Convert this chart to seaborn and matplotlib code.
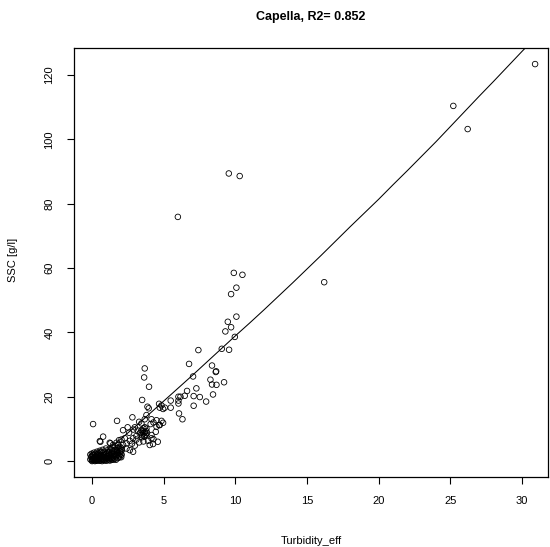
import numpy as np
import pandas as pd
import matplotlib
matplotlib.use("Agg")
import matplotlib.pyplot as plt
import seaborn as sns

# ---- data ----
turb_high = [30.9, 25.2, 26.2, 16.2, 6.0, 9.55, 10.31]
ssc_high = [123.4, 110.4, 103.2, 55.6, 75.9, 89.4, 88.6]

turb_mid_high = [9.9, 10.5, 10.08, 9.71, 10.08, 9.48, 9.71, 9.31, 9.97, 9.06, 9.57, 7.43,
                 6.78, 8.38, 8.64, 8.67, 7.06, 8.27, 8.38, 8.69, 9.22, 7.29, 6.64, 8.45,
                 6.48, 7.1, 7.53, 6.18, 6.04]
ssc_mid_high = [58.5, 57.9, 53.9, 51.9, 44.9, 43.3, 41.6, 40.3, 38.6, 34.9, 34.6, 34.5,
                30.2, 29.7, 27.7, 27.9, 26.3, 25.3, 23.8, 23.7, 24.5, 22.6, 21.8, 20.7,
                20.3, 20.2, 19.9, 20.0, 20.0]

turb_mid = [3.69, 3.65, 3.99, 3.51, 5.5, 6.04, 6.04, 7.97, 7.1, 3.88, 3.97, 4.69, 4.86,
            4.74, 4.97, 5.09, 5.5, 6.08, 6.32, 2.83, 1.76, 3.81, 3.69, 4.16, 4.51, 4.86,
            4.97, 4.69, 3.46, 2.18, 0.09, 0.56]
ssc_mid = [28.8, 26.0, 23.1, 19.0, 18.8, 18.8, 17.9, 18.5, 17.2, 16.9, 16.4, 17.8, 17.3,
           16.6, 16.2, 16.6, 16.6, 14.8, 13.0, 13.6, 12.5, 14.3, 13.0, 13.0, 12.7, 12.5,
           11.9, 11.2, 11.7, 9.6, 11.5, 6.2]

turb_low = [3.46, 3.81, 4.16, 3.69, 3.92, 4.27, 4.04, 4.51, 4.74, 4.46, 3.34, 3.11, 2.88,
            2.65, 2.42, 2.18, 2.3, 2.07, 1.9, 1.72, 1.48, 1.3, 2.65, 2.88, 0.98, 2.07, 2.42,
            0.79, 0.6, 1.25, 3.5, 3.6, 3.7, 3.55, 3.75, 3.65, 3.8, 3.4, 3.6, 3.85, 3.7, 3.5,
            3.0, 3.2, 2.6, 2.9, 2.5, 3.3, 4.3, 4.6, 4.1, 4.3, 2.8, 3.0, 3.3, 3.6, 4.16, 3.11]
ssc_low = [9.6, 10.1, 8.1, 7.6, 6.3, 5.3, 5.0, 10.7, 11.2, 9.1, 8.6, 7.8, 7.1,
           6.3, 5.5, 5.0, 7.1, 6.7, 6.5, 5.7, 5.0, 5.5, 3.4, 2.9, 3.9, 3.9, 3.9,
           7.6, 6.0, 5.7, 8.0, 8.6, 9.0, 9.4, 8.2, 7.8, 9.3, 8.9, 10.2, 8.7, 10.5, 7.4,
           10.5, 9.5, 8.8, 9.8, 10.5, 12.2, 6.8, 6.0, 11.5, 12.0, 5.4, 4.8, 5.8, 6.1, 7.1, 6.7]

turb_blob = [0.0, 0.05, 0.1, 0.0, 0.1, 0.15, 0.2, 0.25, 0.3, 0.3, 0.35, 0.4, 0.45, 0.5, 0.55,
             0.6, 0.6, 0.65, 0.7, 0.75, 0.8, 0.8, 0.85, 0.9, 0.95, 1.0, 1.0, 1.05, 1.1, 1.15,
             1.2, 1.2, 1.25, 1.3, 1.35, 1.4, 1.4, 1.45, 1.5, 1.55, 1.6, 1.6, 1.65, 1.7, 1.75,
             1.8, 1.8, 1.85, 1.9, 1.95, 2.0, 2.0, 2.05, 2.1, 0.02, 0.08, 0.12, 0.18, 0.22,
             0.28, 0.32, 0.38, 0.42, 0.48, 0.52, 0.58, 0.62, 0.68, 0.72, 0.78, 0.82, 0.88,
             0.92, 0.98, 1.02, 1.08, 1.12, 1.18, 1.22, 1.28, 1.32, 1.38, 1.42, 1.48, 1.52,
             1.58, 1.62, 1.68, 1.72, 1.78, 1.82, 1.88, 1.92, 1.98, 2.02, 2.08, 0.0, 0.05,
             0.15, 0.25, 0.35, 0.45, 0.55, 0.65, 0.75, -0.1, -0.05, -0.1]
ssc_blob = [0.2, 0.5, 1.0, 1.5, 2.0, 0.3, 0.8, 1.4, 0.1, 0.6, 1.1, 2.1, 0.4, 0.9, 1.5,
            0.2, 2.6, 0.7, 1.2, 0.3, 1.8, 0.8, 2.9, 0.4, 1.3, 0.6, 2.2, 3.3, 0.9, 1.6,
            0.3, 2.6, 3.7, 0.8, 1.9, 0.5, 3.0, 4.2, 1.2, 2.3, 0.7, 3.5, 4.6, 1.5, 2.8,
            0.9, 3.9, 5.0, 1.8, 3.1, 2.3, 4.3, 1.2, 3.4, 0.0, 0.3, 0.6, 1.2, 0.0,
            0.4, 1.7, 0.2, 0.7, 1.8, 0.1, 1.1, 0.5, 1.9, 0.0, 0.5, 1.4, 0.2,
            2.0, 0.9, 0.1, 1.6, 2.7, 0.6, 1.9, 0.2, 1.3, 2.4, 0.9, 0.4, 3.1,
            1.6, 2.1, 0.4, 3.3, 1.9, 2.5, 1.1, 4.0, 1.4, 3.0, 2.0, 2.3, 1.8,
            2.6, 2.2, 2.9, 2.5, 3.2, 2.8, 3.5, 0.5, 1.2, 2.0]

# fitted curve
curve_x = [0, 1, 2, 3, 4, 5, 6, 7, 8, 9, 10, 11, 12, 13, 14, 15, 16, 17, 18, 19, 20,
           21, 22, 23, 24, 25, 26, 27, 28, 29, 30, 31]
curve_y = [0.0, 3.3, 6.8, 10.6, 14.6, 18.6, 22.6, 26.6, 30.7, 34.8, 38.9, 42.9, 47.0,
           51.2, 55.4, 59.7, 64.0, 68.4, 72.8, 77.1, 81.4, 85.9, 90.3, 94.8, 99.3, 104.0,
           108.7, 113.4, 118.0, 122.7, 127.4, 132.0]

x_ticks = [0, 5, 10, 15, 20, 25, 30]
y_ticks = [0, 20, 40, 60, 80, 100, 120]

turb = turb_high + turb_mid_high + turb_mid + turb_low + turb_blob
ssc = ssc_high + ssc_mid_high + ssc_mid + ssc_low + ssc_blob
df = pd.DataFrame({"Turbidity_eff": turb, "SSC": ssc})
cdf = pd.DataFrame({"x": curve_x, "y": curve_y})

sns.set_style("white")
plt.rcParams["font.family"] = ["Liberation Sans", "DejaVu Sans"]
plt.rcParams["text.color"] = "black"
plt.rcParams["xtick.color"] = "black"
plt.rcParams["ytick.color"] = "black"
plt.rcParams["axes.labelcolor"] = "black"

fig = plt.figure(figsize=(5.5, 5.47), dpi=100)
ax = fig.add_axes([74/550, 1-477/547, (548-74)/550, (477-48)/547])

sns.scatterplot(data=df, x="Turbidity_eff", y="SSC", ax=ax, marker="o",
                facecolors="none", edgecolor="black", linewidth=0.6, s=16, zorder=3)
sns.lineplot(data=cdf, x="x", y="y", ax=ax, color="black", linewidth=0.75, zorder=2)

ax.set_xlim(-1.24, 31.8)
ax.set_ylim(-4.95, 128.4)
ax.set_xticks(x_ticks)
ax.set_yticks(y_ticks)
ax.set_xticklabels([str(t) for t in x_ticks], fontsize=8, color="black")
ax.set_yticklabels([str(t) for t in y_ticks], fontsize=8, rotation=90, va="center",
                   color="black")
ax.tick_params(axis="both", direction="out", length=5, width=0.8, color="black",
               labelcolor="black", bottom=True, left=True, pad=9)
for sp in ax.spines.values():
    sp.set_visible(True)
    sp.set_color("black")
    sp.set_linewidth(0.9)

ax.set_xlabel("")
ax.set_ylabel("")
fig.text(311/550, 1-541/547, "Turbidity_eff", ha="center", va="center", fontsize=8,
         color="black")
fig.text(13/550, 1-260/547, "SSC [g/l]", ha="center", va="center", rotation=90,
         fontsize=8, color="black")
fig.text(311/550, 1-17/547, "Capella, R2= 0.852", ha="center", va="center",
         fontsize=9, fontweight="bold", color="black")

fig.savefig("out.png", dpi=100, facecolor="white")
